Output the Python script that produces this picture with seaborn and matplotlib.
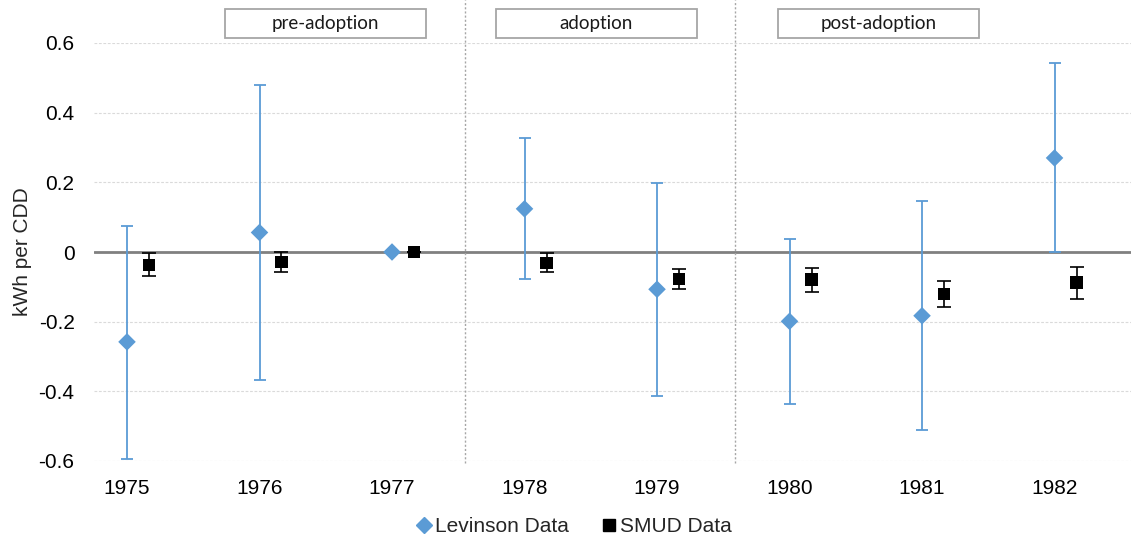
import numpy as np
import pandas as pd
import matplotlib
matplotlib.use("Agg")
import matplotlib.pyplot as plt
from matplotlib.lines import Line2D
from matplotlib.patches import Rectangle
import seaborn as sns

years = ["1975", "1976", "1977", "1978", "1979", "1980", "1981", "1982"]
lev_val = [-0.258, 0.056, 0.0, 0.124, -0.107, -0.199, -0.183, 0.270]
lev_lo = [-0.594, -0.367, 0.0, -0.078, -0.413, -0.436, -0.511, 0.000]
lev_hi = [0.075, 0.478, 0.0, 0.328, 0.199, 0.037, 0.146, 0.543]
smud_val = [-0.037, -0.028, 0.0, -0.031, -0.077, -0.079, -0.121, -0.088]
smud_lo = [-0.070, -0.058, 0.0, -0.056, -0.105, -0.115, -0.159, -0.135]
smud_hi = [-0.004, 0.001, 0.0, -0.004, -0.048, -0.046, -0.082, -0.042]
phases = ["pre-adoption", "adoption", "post-adoption"]
yticks = [-0.6, -0.4, -0.2, 0, 0.2, 0.4, 0.6]

BLUE = "#5B9BD5"
sns.set_theme(style="white")
plt.rcParams["font.family"] = ["Liberation Sans", "DejaVu Sans"]

fig = plt.figure(figsize=(11.31, 5.42), dpi=100)
ax = fig.add_axes([94 / 1131, 81 / 542, (1131 - 94) / 1131, 418 / 542])

pos = np.arange(len(years))
dodge = 0.166
df = pd.DataFrame({
    "x": np.concatenate([pos, pos + dodge]),
    "y": lev_val + smud_val,
    "series": ["Levinson Data"] * len(years) + ["SMUD Data"] * len(years),
})

# grid
for t in yticks:
    if t == 0:
        continue
    ax.axhline(t, color="#dadada", lw=0.8, ls=(0, (2.5, 1.5)), zorder=0)
ax.axhline(0, color="#808080", lw=2, zorder=1)

# error bars
lv = np.array(lev_val); sv = np.array(smud_val)
ax.errorbar(pos, lv, yerr=[lv - np.array(lev_lo), np.array(lev_hi) - lv],
            fmt="none", ecolor=BLUE, elinewidth=1.3, capsize=4.5, capthick=1.3, zorder=2)
ax.errorbar(pos + dodge, sv, yerr=[sv - np.array(smud_lo), np.array(smud_hi) - sv],
            fmt="none", ecolor="black", elinewidth=1.2, capsize=5, capthick=1.2, zorder=2)

sns.scatterplot(data=df, x="x", y="y", hue="series", style="series",
                palette={"Levinson Data": BLUE, "SMUD Data": "black"},
                markers={"Levinson Data": "D", "SMUD Data": "s"},
                s=80, edgecolor="none", linewidth=0, legend=False, ax=ax, zorder=3)

ax.set_xlim(-0.249, 7.577)
ax.set_ylim(-0.6, 0.6)
ax.set_xticks(pos)
ax.set_xticklabels(years, fontsize=15)
ax.set_yticks(yticks)
ax.set_yticklabels(["0" if t == 0 else f"{t:.1f}" for t in yticks], fontsize=15)
ax.tick_params(axis="both", length=0, colors="black")
ax.tick_params(axis="y", pad=14)
ax.tick_params(axis="x", pad=13)
ax.set_xlabel("")
ax.set_ylabel("kWh per CDD", fontsize=15)
ax.yaxis.set_label_coords(-62 / 1037, 0.5)
for s in ax.spines.values():
    s.set_visible(False)

# dividers
for xd in [2.551, 4.585]:
    ax.axvline(xd, ymin=-0.005, ymax=1.103, color="#a6a6a6", lw=1.0,
               ls=(0, (1.5, 1.5)), clip_on=False, zorder=1)

# phase boxes (figure pixel layout)
box_left = [225, 496, 778]
for lab, bl in zip(phases, box_left):
    rect = Rectangle((bl / 1131, (542 - 38) / 542), 201 / 1131, 29 / 542,
                     transform=fig.transFigure, facecolor="white",
                     edgecolor="#a6a6a6", lw=1.3)
    fig.patches.append(rect)
    fig.text((bl + 100.5) / 1131, (542 - 23.5) / 542, lab, ha="center", va="center",
             fontsize=13.5, family=["Lato", "DejaVu Sans"], color="#1a1a1a")

handles = [Line2D([], [], marker="D", color=BLUE, ls="none", markersize=8, label="Levinson Data"),
           Line2D([], [], marker="s", color="black", ls="none", markersize=8, label="SMUD Data")]
fig.legend(handles=handles, loc="center", bbox_to_anchor=(0.508, 0.028), ncol=2,
           frameon=False, fontsize=15, handlelength=0.6, handletextpad=0.25,
           columnspacing=1.6)

fig.savefig("out.png", dpi=100)
